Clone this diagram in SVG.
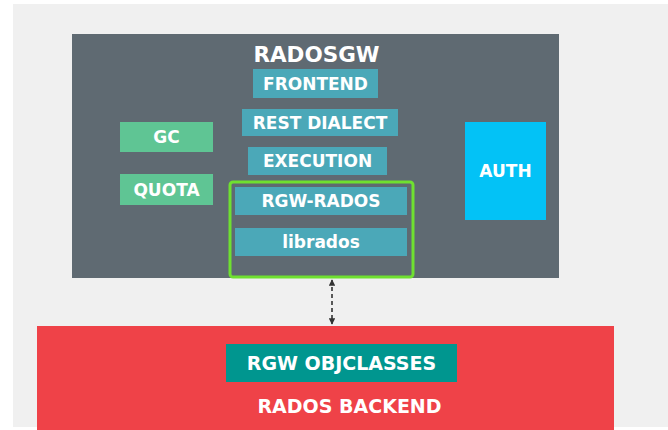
<svg xmlns="http://www.w3.org/2000/svg" width="668" height="430" viewBox="0 0 668 430">
  <style>
    .lbl { font-family: "DejaVu Sans", "Liberation Sans", sans-serif; font-weight: bold; fill: #ffffff; text-anchor: middle; }
    .layer { fill: #4ba8b8; }
    .side { fill: #5fc594; }
  </style>
  <defs>
    <marker id="tip" viewBox="0 0 10 10" refX="9" refY="5" markerWidth="4" markerHeight="4" orient="auto-start-reverse">
      <path d="M0,0 L10,5 L0,10 z" fill="#333333"/>
    </marker>
  </defs>

  <!-- page background -->
  <rect x="0" y="0" width="668" height="430" fill="#ffffff"/>
  <rect x="13" y="4" width="655" height="423" fill="#f0f0f0"/>

  <!-- RADOSGW container -->
  <g id="radosgw">
    <rect x="72" y="34" width="487" height="244" fill="#5f6a72"/>
    <text class="lbl" x="316.5" y="61.5" font-size="21.5">RADOSGW</text>
  </g>

  <g id="frontend">
    <rect class="layer" x="253" y="69" width="125" height="29"/>
    <text class="lbl" x="315.5" y="89.5" font-size="17">FRONTEND</text>
  </g>

  <g id="rest-dialect">
    <rect class="layer" x="242" y="109" width="156" height="27"/>
    <text class="lbl" x="320" y="128.5" font-size="17">REST DIALECT</text>
  </g>

  <g id="execution">
    <rect class="layer" x="248" y="147" width="139" height="28"/>
    <text class="lbl" x="317.5" y="167" font-size="17">EXECUTION</text>
  </g>

  <g id="rgw-rados-group">
    <rect x="230" y="182" width="183" height="95" rx="3" fill="none" stroke="#6fe030" stroke-width="3"/>
  </g>

  <g id="rgw-rados">
    <rect class="layer" x="235" y="187" width="172" height="28"/>
    <text class="lbl" x="321" y="207" font-size="17">RGW-RADOS</text>
  </g>

  <g id="librados">
    <rect class="layer" x="235" y="228" width="172" height="28"/>
    <text class="lbl" x="321" y="248" font-size="17">librados</text>
  </g>

  <g id="gc">
    <rect class="side" x="120" y="122" width="93" height="30"/>
    <text class="lbl" x="166.5" y="143" font-size="17">GC</text>
  </g>

  <g id="quota">
    <rect class="side" x="120" y="174" width="93" height="31"/>
    <text class="lbl" x="166.5" y="195.5" font-size="17">QUOTA</text>
  </g>

  <g id="auth">
    <rect x="465" y="122" width="81" height="98" fill="#03c2f6"/>
    <text class="lbl" x="505.5" y="177" font-size="17">AUTH</text>
  </g>

  <!-- RADOS backend -->
  <g id="rados-backend">
    <rect x="37" y="326" width="577" height="104" fill="#ef4248"/>
    <text class="lbl" x="349.5" y="413" font-size="19">RADOS BACKEND</text>
  </g>

  <g id="rgw-objclasses">
    <rect x="226" y="344" width="231" height="38" fill="#00968f"/>
    <text class="lbl" x="341.5" y="370" font-size="19">RGW OBJCLASSES</text>
  </g>

  <!-- connectors -->
  <g id="connectors">
    <line x1="332" y1="280" x2="332" y2="324" stroke="#333333" stroke-width="1.6" stroke-dasharray="4,3" marker-start="url(#tip)" marker-end="url(#tip)"/>
  </g>
</svg>
